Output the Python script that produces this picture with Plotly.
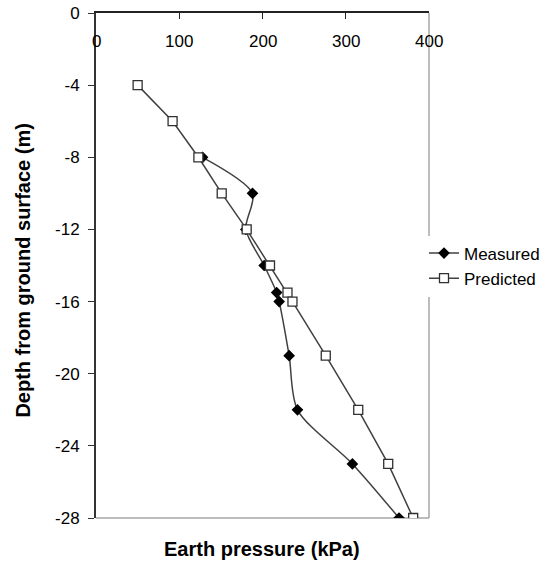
import plotly.graph_objects as go

# ---- data ----
depth_pred = [-4, -6, -8, -10, -12, -14, -15.5, -16, -19, -22, -25, -28]
pressure_pred = [50, 92, 123, 151, 181, 209, 230, 236, 276, 315, 351, 381]
depth_meas = [-8, -10, -12, -14, -15.5, -16, -19, -22, -25, -28]
pressure_meas = [128, 188, 180, 202, 217, 220, 232, 242, 308, 364]

x_ticks = [0, 100, 200, 300, 400]
y_ticks = [0, -4, -8, -12, -16, -20, -24, -28]
y_ticktext = [str(v) for v in y_ticks]

FONT = "Liberation Sans, Arial, sans-serif"
LINE = "#404040"

fig = go.Figure()
fig.add_trace(go.Scatter(
    x=pressure_meas, y=depth_meas, name="Measured", mode="lines+markers",
    line=dict(color=LINE, width=1.5, shape="spline", smoothing=0.8),
    marker=dict(symbol="diamond", size=9, color="black", line=dict(width=0)),
    legendgroup="m",
))
fig.add_trace(go.Scatter(
    x=pressure_pred, y=depth_pred, name="Predicted", mode="lines+markers",
    line=dict(color=LINE, width=1.5),
    marker=dict(symbol="square", size=9, color="white", line=dict(width=1.3, color="#303030")),
    legendgroup="p",
))

W, H = 545, 564
L, R, T, B = 95.5, 116, 13, 46
pw, ph = W - L - R, H - T - B

annotations = [
    dict(text=str(v), x=v, y=0, xref="x", yref="y", xanchor="center", yanchor="top",
         yshift=-17, showarrow=False, font=dict(family=FONT, size=17, color="black"))
    for v in x_ticks
]
annotations += [
    dict(text="<b>Earth pressure (kPa)</b>", xref="paper", yref="paper",
         x=(262 - L) / pw, y=(518 - 549) / ph, xanchor="center", yanchor="middle",
         showarrow=False, font=dict(family=FONT, size=20, color="black")),
    dict(text="<b>Depth from ground surface (m)</b>", xref="paper", yref="paper",
         x=(22 - L) / pw, y=(518 - 271) / ph, xanchor="center", yanchor="middle",
         textangle=-90, showarrow=False, font=dict(family=FONT, size=20, color="black")),
]

fig.update_layout(
    width=W, height=H,
    margin=dict(l=L, r=R, t=T, b=B, pad=0, autoexpand=False),
    paper_bgcolor="white", plot_bgcolor="white",
    font=dict(family=FONT, size=16, color="black"),
    showlegend=True,
    legend=dict(
        x=(424 - L) / pw, xanchor="left",
        y=(518 - 266) / ph, yanchor="middle",
        bgcolor="white", borderwidth=0,
        font=dict(family=FONT, size=17, color="black"),
        traceorder="normal",
    ),
    xaxis=dict(
        side="top", range=[0, 400], tickvals=x_ticks,
        ticks="inside", ticklen=6, tickcolor="#222", tickwidth=1.3,
        showticklabels=False,
        showline=True, linecolor="#222", linewidth=1.5,
        showgrid=False, zeroline=False,
    ),
    yaxis=dict(
        range=[-28, 0], tickvals=y_ticks, ticktext=y_ticktext,
        ticks="outside", ticklen=6, tickcolor="#333", tickwidth=1.3,
        ticklabelstandoff=5,
        showline=True, linecolor="#333", linewidth=2,
        showgrid=False, zeroline=False,
        tickfont=dict(family=FONT, size=17, color="black"),
    ),
    shapes=[
        dict(type="line", xref="paper", yref="paper", x0=0, x1=1, y0=0, y1=0,
             line=dict(color="#a6a6a6", width=1.5), layer="below"),
        dict(type="line", xref="paper", yref="paper", x0=1, x1=1, y0=0, y1=1,
             line=dict(color="#a6a6a6", width=1.5), layer="below"),
    ],
    annotations=annotations,
)

fig.write_html("out.html")
